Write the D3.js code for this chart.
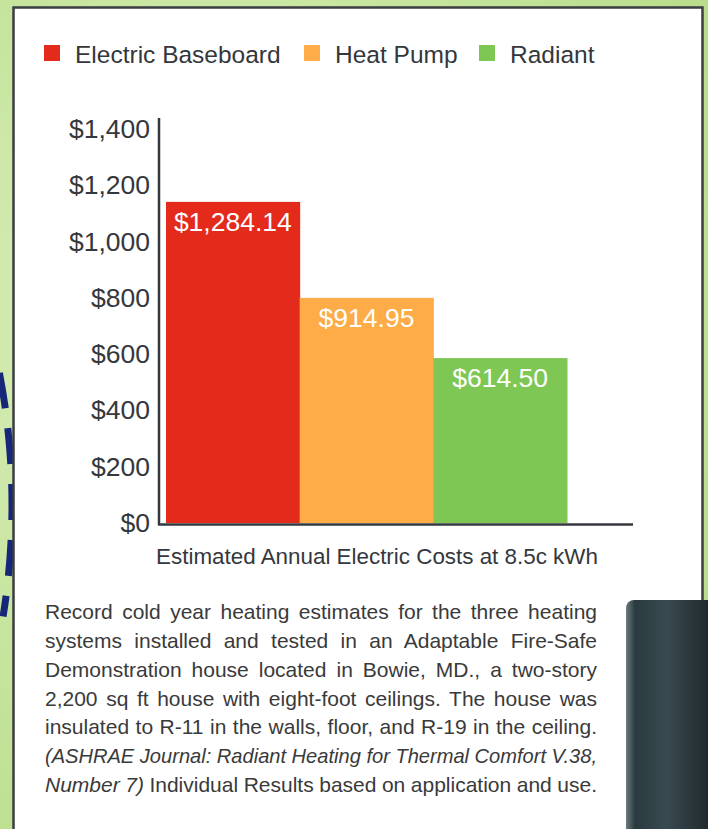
<!DOCTYPE html>
<html>
<head>
<meta charset="utf-8">
<script src="https://cdn.jsdelivr.net/npm/d3@7"></script>
<style>
  html, body { margin: 0; padding: 0; background: #cfe8ab; }
  svg { display: block; }
</style>
</head>
<body>
<div class="chart"></div>
<script>
// data
const systems = ["Electric Baseboard", "Heat Pump", "Radiant"];
const barHeights = [1141, 800, 586];          // heights as drawn in the picture
const barLabels = ["$1,284.14", "$914.95", "$614.50"];
const colors = ["#e42b1b", "#fdac47", "#7ec755"];
const yTicks = [0, 200, 400, 600, 800, 1000, 1200, 1400];
const axisTitle = "Estimated Annual Electric Costs at 8.5c kWh";
const noteLines = [
  "Record cold year heating estimates for the three heating",
  "systems installed and tested in an Adaptable Fire-Safe",
  "Demonstration house located in Bowie, MD., a two-story",
  "2,200 sq ft house with eight-foot ceilings. The house was",
  "insulated to R-11 in the walls, floor, and R-19 in the ceiling."
];

let dims = { width: 708, height: 829 };
const ink = "#34373c";
const font = "'Liberation Sans', Arial, Helvetica, sans-serif";

let svg = d3.select(".chart")
  .append("svg")
  .attr("width", dims.width)
  .attr("height", dims.height);

let defs = svg.append("defs");
let bg = defs.append("radialGradient").attr("id", "leaf").attr("cx", "30%").attr("cy", "40%").attr("r", "80%");
bg.append("stop").attr("offset", "0%").attr("stop-color", "#e2f2c8");
bg.append("stop").attr("offset", "60%").attr("stop-color", "#c6e49d");
bg.append("stop").attr("offset", "100%").attr("stop-color", "#b9dd8c");

let dark = defs.append("linearGradient").attr("id", "dark").attr("x1", "0").attr("x2", "1");
dark.append("stop").attr("offset", "0%").attr("stop-color", "#6a7a7e");
dark.append("stop").attr("offset", "10%").attr("stop-color", "#2b3a3f");
dark.append("stop").attr("offset", "45%").attr("stop-color", "#384a50");
dark.append("stop").attr("offset", "100%").attr("stop-color", "#1b2427");

// background texture
svg.append("rect").attr("width", dims.width).attr("height", dims.height).attr("fill", "url(#leaf)");

// blue dashed circle peeking on the left (right side of a big circle)
const r = 700, cy = 505, cx = 12 - r;
const a0 = -0.19, a1 = 0.16;
svg.append("path")
  .attr("d", `M${cx + r * Math.cos(a0)},${cy + r * Math.sin(a0)} A${r},${r} 0 0 1 ${cx + r * Math.cos(a1)},${cy + r * Math.sin(a1)}`)
  .attr("fill", "none")
  .attr("stroke", "#16277a")
  .attr("stroke-width", 7)
  .attr("stroke-dasharray", "36,20");

// white panel
svg.append("rect")
  .attr("x", 13.5).attr("y", 7.5)
  .attr("width", 689).attr("height", 840)
  .attr("fill", "#fff")
  .attr("stroke", "#3a3d42")
  .attr("stroke-width", 2.5);

// dark object at bottom right
svg.append("rect")
  .attr("x", 626).attr("y", 600)
  .attr("width", 90).attr("height", 240)
  .attr("rx", 8)
  .attr("fill", "url(#dark)");

// legend
let legend = svg.append("g").attr("class", "legend");
const legendX = [44, 304, 479];
systems.forEach((s, i) => {
  legend.append("rect")
    .attr("x", legendX[i]).attr("y", 45)
    .attr("width", 16).attr("height", 16)
    .attr("fill", colors[i]);
  legend.append("text")
    .attr("x", legendX[i] + 31).attr("y", 62.5)
    .style("font-family", font).style("font-size", "24.5px")
    .attr("fill", ink)
    .text(s);
});

// scales
let y = d3.scaleLinear().domain([0, 1400]).range([523, 129]);
let x = d3.scaleBand().domain(systems).range([166, 567]).padding(0);

// bars
svg.append("g").selectAll("rect")
  .data(systems)
  .join("rect")
  .attr("x", d => x(d))
  .attr("y", (d, i) => y(barHeights[i]))
  .attr("width", x.bandwidth() + 0.5)
  .attr("height", (d, i) => y(0) - y(barHeights[i]))
  .attr("fill", (d, i) => colors[i]);

svg.append("g").selectAll("text")
  .data(systems)
  .join("text")
  .attr("x", d => x(d) + x.bandwidth() / 2)
  .attr("y", (d, i) => y(barHeights[i]) + 29)
  .attr("text-anchor", "middle")
  .style("font-family", font).style("font-size", "26.5px")
  .attr("fill", "#fff")
  .text((d, i) => barLabels[i]);

// y axis
let yAxis = svg.append("g")
  .attr("transform", "translate(159,0)")
  .call(d3.axisLeft(y).tickValues(yTicks).tickSize(0).tickPadding(9)
    .tickFormat(d => "$" + d3.format(",")(d)));
yAxis.select(".domain").remove();
yAxis.selectAll("text")
  .style("font-family", font).style("font-size", "26.5px")
  .attr("fill", ink);

svg.append("line")
  .attr("x1", 159).attr("x2", 159).attr("y1", 118).attr("y2", 525)
  .attr("stroke", ink).attr("stroke-width", 2.5);
svg.append("line")
  .attr("x1", 158).attr("x2", 633).attr("y1", 524.5).attr("y2", 524.5)
  .attr("stroke", ink).attr("stroke-width", 2.5);

svg.append("text")
  .attr("x", 377).attr("y", 564)
  .attr("text-anchor", "middle")
  .style("font-family", font).style("font-size", "22.4px")
  .attr("fill", ink)
  .text(axisTitle);

// note paragraph, justified with word spacing
const noteX = 45, noteW = 552, lead = 28.75, base = 619.3;
let note = svg.append("g")
  .style("font-family", font).style("font-size", "21px")
  .attr("fill", "#3a3a3a");

let justify = t => {
  const w = t.node().getComputedTextLength();
  const gaps = (t.text().match(/ /g) || []).length;
  if (gaps > 0) t.style("word-spacing", ((noteW - w) / gaps) + "px");
};

noteLines.forEach((l, i) => {
  let t = note.append("text")
    .attr("x", noteX).attr("y", base + i * lead)
    .text(l);
  justify(t);
});
note.append("text")
  .attr("x", noteX).attr("y", base + 5 * lead)
  .attr("textLength", noteW).attr("lengthAdjust", "spacingAndGlyphs")
  .style("font-style", "italic")
  .text("(ASHRAE Journal: Radiant Heating for Thermal Comfort V.38,");
let last = note.append("text")
  .attr("x", noteX).attr("y", base + 6 * lead);
last.append("tspan").style("font-style", "italic").text("Number 7) ");
last.append("tspan").text("Individual Results based on application and use.");
justify(last);
</script>
</body>
</html>
